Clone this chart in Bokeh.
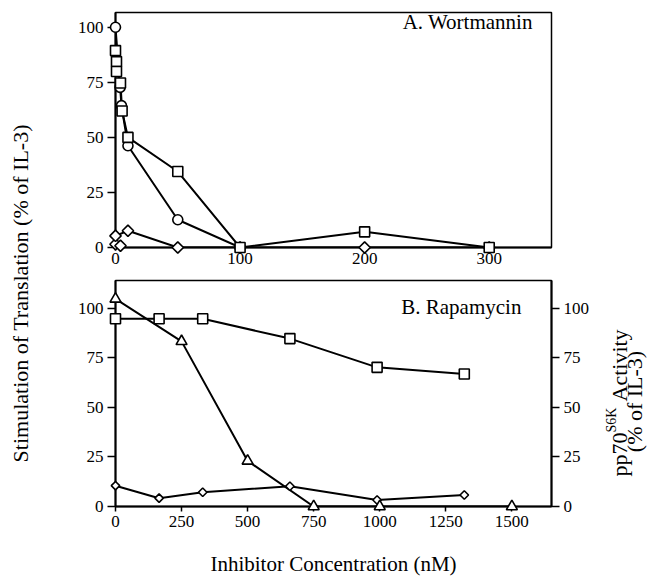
from math import pi
from bokeh.plotting import figure
from bokeh.layouts import row, column
from bokeh.models import Range1d, LinearAxis, FixedTicker, Label
from bokeh.embed import file_html
from bokeh.resources import INLINE

FONT = "Liberation Serif"

# ---------------- data ----------------
# Panel A: Wortmannin (nM) -> stimulation of translation (% of IL-3)
wort_sq_x = [0, 0.8, 0.8, 4, 5.3, 10, 50, 100, 200, 300]
wort_sq_y = [89.4, 84.4, 79.9, 74.7, 62, 50, 34.5, 0, 7.1, 0]
wort_ci_x = [0, 3.7, 4.8, 10, 50, 100]
wort_ci_y = [100, 72.7, 64.4, 46.2, 12.6, 0]
wort_di1_x = [0, 10, 50, 100, 200, 300]
wort_di1_y = [5.3, 7.6, 0, 0, 0, 0]
wort_di2_x = [0, 4]
wort_di2_y = [1.5, 0.8]

# Panel B: Rapamycin (nM)
rapa_sq_x = [0, 165, 330, 660, 990, 1320]
rapa_sq_y = [94.7, 94.7, 94.7, 84.7, 70.2, 66.8]
rapa_tr_x = [0, 250, 500, 750, 1000, 1500]      # pp70S6K activity (right axis)
rapa_tr_y = [104.7, 83.3, 23, 0, 0, 0]
rapa_di_x = [0, 165, 330, 660, 990, 1320]
rapa_di_y = [10.5, 4.2, 7.2, 10.2, 3.3, 5.8]

wort_xticks = [0, 100, 200, 300]
rapa_xticks = [0, 250, 500, 750, 1000, 1250, 1500]
pct_ticks = [0, 25, 50, 75, 100]


def style(p):
    p.outline_line_color = "black"
    p.outline_line_width = 1.5
    p.outline_line_alpha = 1.0
    p.xgrid.visible = False
    p.ygrid.visible = False
    p.background_fill_color = "white"
    p.border_fill_color = "white"
    for ax in p.axis:
        ax.axis_line_color = "black"
        ax.axis_line_width = 2
        ax.major_tick_line_color = "black"
        ax.major_tick_line_width = 1.5
        ax.major_tick_in = 0
        ax.major_tick_out = 8
        ax.minor_tick_line_color = None
        ax.major_label_text_font = FONT
        ax.major_label_text_font_size = "17px"
        ax.major_label_text_color = "black"
        ax.major_label_standoff = 4


def lines_and_markers(p, x, y, marker, size, angle=0.0, y_range_name="default"):
    p.line(x, y, line_color="black", line_width=2, y_range_name=y_range_name)
    r = p.scatter(x, y, marker=marker, size=size, angle=angle, fill_color="white",
                  line_color="black", line_width=1.6, y_range_name=y_range_name)
    r.level = "overlay"
    return r


def blank(width, height):
    f = figure(width=width, height=height, x_range=Range1d(0, width), y_range=Range1d(0, height),
               min_border=0, x_axis_location=None, y_axis_location=None,
               output_backend="svg", toolbar_location=None)
    f.outline_line_color = None
    f.xgrid.visible = False
    f.ygrid.visible = False
    return f


# ---------------- panel A ----------------
top = figure(width=560, height=272, x_range=Range1d(0, 350), y_range=Range1d(0, 106.7),
             min_border_left=75, min_border_right=49, min_border_top=12, min_border_bottom=25,
             output_backend="svg", toolbar_location=None)
style(top)
top.xaxis.ticker = FixedTicker(ticks=wort_xticks)
top.yaxis.ticker = FixedTicker(ticks=pct_ticks)
top.xaxis.major_tick_out = 3
top.xaxis.major_label_standoff = 2

lines_and_markers(top, wort_di2_x, wort_di2_y, "square", 8, angle=pi / 4)
lines_and_markers(top, wort_di1_x, wort_di1_y, "square", 8, angle=pi / 4)
lines_and_markers(top, wort_ci_x, wort_ci_y, "circle", 10)
lines_and_markers(top, wort_sq_x, wort_sq_y, "square", 10)

top.add_layout(Label(x=335, y=102.5, text="A. Wortmannin", text_align="right",
                     text_baseline="alphabetic", text_font=FONT, text_font_size="21px",
                     text_color="black"))

# ---------------- panel B ----------------
bot = figure(width=560, height=306, x_range=Range1d(0, 1650), y_range=Range1d(0, 114),
             min_border_left=75, min_border_right=49, min_border_top=8, min_border_bottom=70,
             output_backend="svg", toolbar_location=None)
bot.extra_y_ranges = {"pp70": Range1d(0, 114)}
bot.add_layout(LinearAxis(y_range_name="pp70"), "right")
style(bot)
bot.xaxis.ticker = FixedTicker(ticks=rapa_xticks)
for ax in bot.yaxis:
    ax.ticker = FixedTicker(ticks=pct_ticks)
bot.xaxis.major_tick_out = 5
bot.xaxis.major_label_standoff = 4
bot.xaxis.axis_label = "Inhibitor Concentration (nM)"
bot.xaxis.axis_label_text_font = FONT
bot.xaxis.axis_label_text_font_size = "21px"
bot.xaxis.axis_label_text_font_style = "normal"
bot.xaxis.axis_label_text_color = "black"
bot.xaxis.axis_label_standoff = 22

lines_and_markers(bot, rapa_di_x, rapa_di_y, "square", 6, angle=pi / 4)
lines_and_markers(bot, rapa_tr_x, rapa_tr_y, "triangle", 11, y_range_name="pp70")
lines_and_markers(bot, rapa_sq_x, rapa_sq_y, "square", 10)

bot.add_layout(Label(x=1536, y=100.5, text="B. Rapamycin", text_align="right",
                     text_baseline="alphabetic", text_font=FONT, text_font_size="21px",
                     text_color="black"))

# ---------------- shared left title ----------------
lab = blank(40, 578)
lab.add_layout(Label(x=20, y=578 - 290, text="Stimulation of Translation  (% of IL-3)",
                     angle=pi / 2, text_align="center", text_baseline="middle",
                     text_font=FONT, text_font_size="22px", text_color="black"))

# ---------------- right title (rotated, with superscript) ----------------
rt = blank(48, 578)
rl = dict(angle=pi / 2, text_font=FONT, text_color="black", text_baseline="alphabetic",
          text_align="left")
rt.add_layout(Label(x=19, y=578 - 476, text="pp70", text_font_size="22px", **rl))
rt.add_layout(Label(x=11, y=578 - 432, text="S6K", text_font_size="14px", **rl))
rt.add_layout(Label(x=19, y=578 - 401, text="Activity", text_font_size="22px", **rl))
rt.add_layout(Label(x=34, y=578 - 401, text="(% of IL-3)", angle=pi / 2, text_font=FONT,
                    text_color="black", text_baseline="alphabetic", text_align="center",
                    text_font_size="22px"))

layout = row(lab, column(top, bot), rt)
open("out.html", "w").write(file_html(layout, INLINE))
